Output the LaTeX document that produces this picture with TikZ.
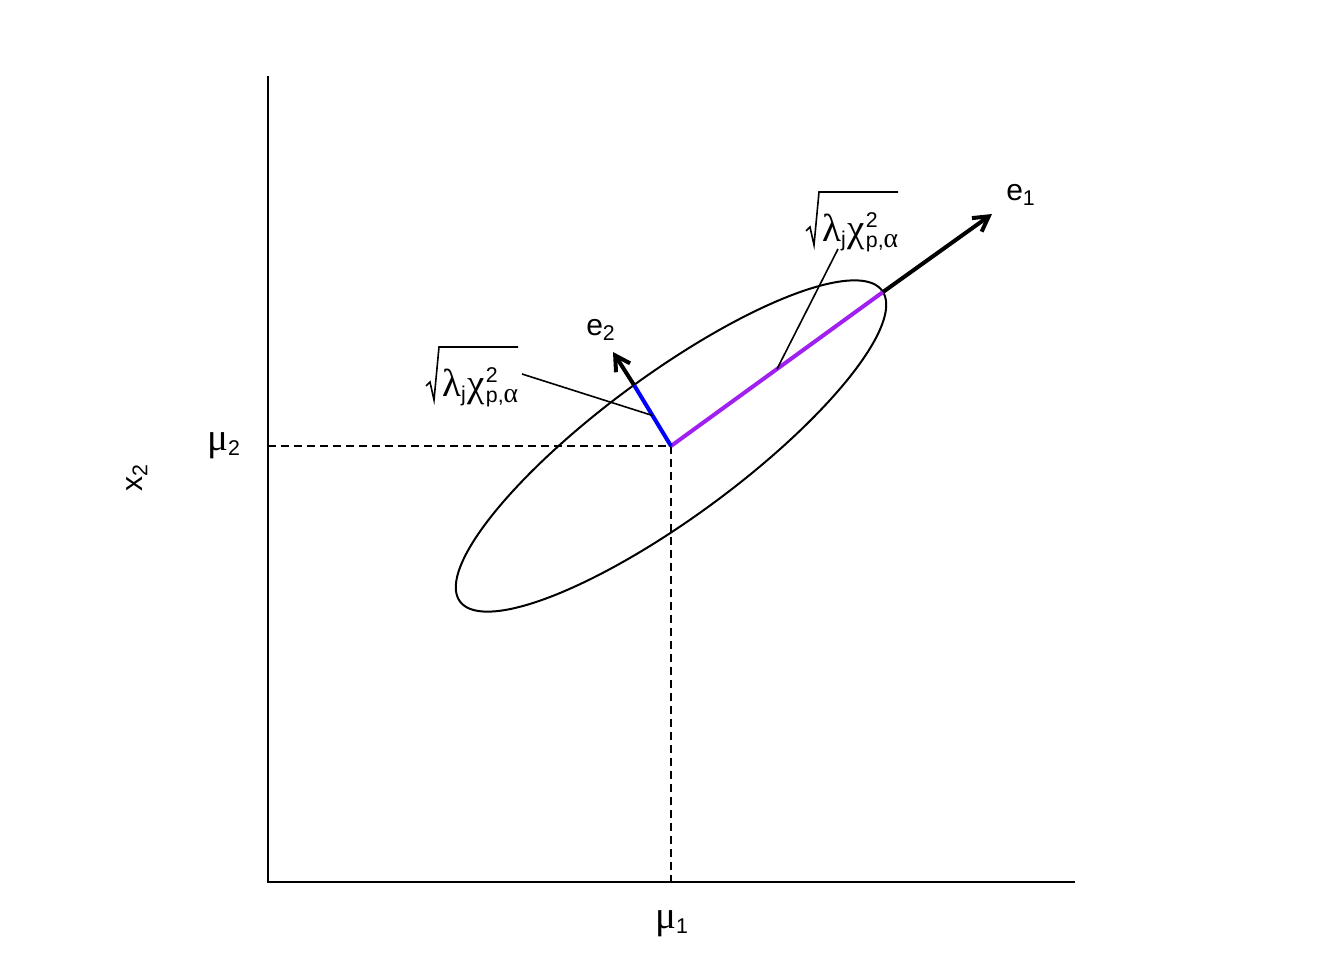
\documentclass[tikz,border=0pt]{standalone}
\usepackage{fontspec}
\setmainfont{Liberation Sans}
\newfontfamily\grk[Scale=1.3]{Liberation Serif}
\usetikzlibrary{arrows.meta,calc}
\newcommand\scr{\fontsize{16}{16}\selectfont}
\newcommand\lsub[1]{\raisebox{-4pt}{\scr #1}}
\newcommand\supsub[2]{\rlap{\raisebox{10.5pt}{\scr #1}}\raisebox{-4.5pt}{\scr #2}}
\newcommand\lamchi{{\grk λ}\lsub{j}\kern1.5pt{\grk χ}\kern0.5pt\supsub{2}{p,{\grk α}}}
\definecolor{rpurple}{HTML}{A020F0}
\tikzset{
  axisline/.style={line width=1.5pt},
  dashline/.style={line width=1.5pt, dash pattern=on 6pt off 3.75pt},
  ell/.style={line width=1.5pt},
  axseg/.style={line width=3pt},
  arr/.style={line width=3pt, -{Straight Barb[length=11pt,width=12.5pt]}},
  pointer/.style={line width=1.2pt},
  radical/.style={line width=1.2pt, line join=miter},
  lbl/.style={inner sep=0pt, font=\fontsize{22.5}{26}\selectfont},
}
\begin{document}
\begin{tikzpicture}[x=0.75pt,y=-0.75pt]
\useasboundingbox (0,0) rectangle (1344,960);
% key points
\coordinate (o) at (268,882);
\coordinate (ytop) at (268,76);
\coordinate (xend) at (1075,882);
\coordinate (c) at (671,446);
\coordinate (a1) at (883,292);
\coordinate (a2) at (634,385);
\coordinate (t1) at (992,214);
\coordinate (t2) at (613,352);
\coordinate (m1) at ($(c)!0.5!(a1)$);
\coordinate (m2) at ($(c)!0.5!(a2)$);
% axes
\draw[axisline] (ytop) -- (o) -- (xend);
% dashed guides
\draw[dashline] (o |- c) -- (c);
\draw[dashline] (c) -- (c |- o);
% ellipse
\draw[ell] plot[domain=0:360, samples=240, smooth cycle]
  ({671+212*cos(\x)-37*sin(\x)}, {446-154*cos(\x)-61*sin(\x)});
% semi-axes
\draw[axseg, rpurple] (c) -- (a1);
\draw[axseg, blue] (c) -- (a2);
% eigen arrows
\draw[arr] (a1) -- (t1);
\draw[arr] (a2) -- (t2);
% labels
\node[lbl, anchor=base west] (e1) at (1006,200) {e\lsub{1}};
\node[lbl, anchor=base west] (e2) at (586,335) {e\lsub{2}};
\node[lbl, anchor=base west] (mu2) at (207,450) {{\grk μ}\lsub{2}};
\node[lbl, anchor=base west] (mu1) at (655,928) {{\grk μ}\lsub{1}};
\node[lbl, anchor=base west, rotate=90] (x2) at (142,492) {x\lsub{2}};
% sqrt labels
\node[lbl, anchor=base west] (L1) at (822,241) {\lamchi};
\draw[radical] (806,231) -- (810,227) -- (814,245) -- (819,192) -- (898,192);
\node[lbl, anchor=base west] (L2) at (442,396) {\lamchi};
\draw[radical] (426,386) -- (430,382) -- (434,400) -- (439,347) -- (518,347);
% pointers
\coordinate (p1) at (838,249);
\coordinate (p2) at (522,374);
\draw[pointer] (p1) -- (m1);
\draw[pointer] (p2) -- (m2);
\end{tikzpicture}
\end{document}
